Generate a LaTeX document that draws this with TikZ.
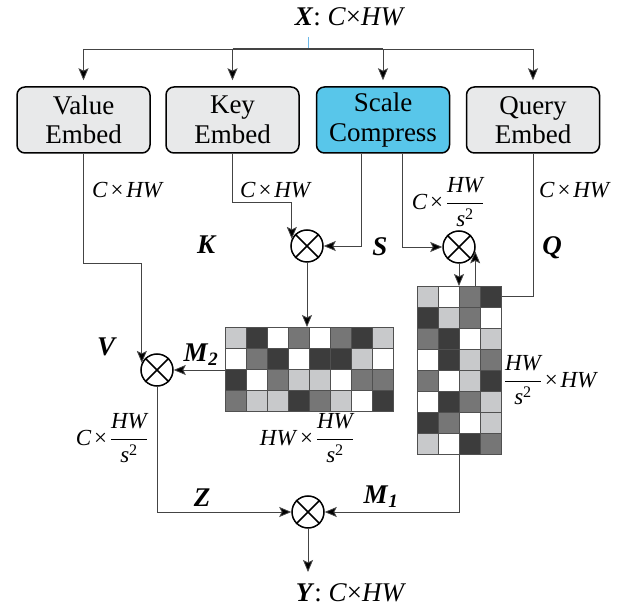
\documentclass[tikz,border=0pt]{standalone}
\usepackage{fontspec}
\setmainfont{Liberation Serif}
\usepackage{amsmath}
\usetikzlibrary{arrows.meta,calc}
\definecolor{boxgray}{HTML}{E8E9EA}
\definecolor{scaleblue}{HTML}{58C6EA}
\definecolor{cL}{HTML}{C8C9CB}
\definecolor{cD}{HTML}{3C3C3C}
\definecolor{cM}{HTML}{767676}
\definecolor{cW}{HTML}{FFFFFF}
\definecolor{linegray}{HTML}{444444}
\definecolor{gridc}{HTML}{505050}
\definecolor{tickblue}{HTML}{6BB8E8}
\newcommand{\iv}[1]{\textit{#1}}
\newcommand{\bv}[1]{\textbf{\textit{#1}}}
\newcommand{\tms}{\hspace{0.12em}×\hspace{0.12em}}
\newcommand{\frHW}{$\dfrac{\text{\itshape HW}}{\text{\itshape s}^{\text{2}}}$}
\begin{document}
\begin{tikzpicture}[x=1pt,y=-1pt,
  box/.style={draw, line width=1.5pt, rounded corners=8pt, fill=boxgray,
    minimum width=133pt, minimum height=66pt, align=center, inner sep=0pt,
    font=\fontsize{27}{29.5}\selectfont},
  mul/.style={circle, draw, line width=1.5pt, minimum size=32pt, inner sep=0pt},
  conn/.style={draw=linegray, line width=0.8pt},
  arr/.style={conn, -{Stealth[length=12pt,width=10pt,inset=2.5pt,fill=black]}},
  lbl/.style={font=\fontsize{23}{27}\selectfont, inner sep=0pt},
  blbl/.style={font=\fontsize{27}{31}\selectfont, inner sep=0pt},
  big/.style={font=\fontsize{27}{31}\selectfont, inner sep=0pt},
  mat/.style={draw=gridc, line width=0.6pt, inner sep=0pt, anchor=north west}]
\useasboundingbox (0,0) rectangle (627,609);

% boxes
\node[box] (valbox) at (83.5,120) {Value\\Embed};
\node[box] (keybox) at (232.5,120) {Key\\Embed};
\node[box, fill=scaleblue] (scalebox) at (383,120) {Scale\\Compress};
\node[box] (querybox) at (533,120) {Query\\Embed};

% input
\node[big] (xlab) at (350,17) {\bv{X}: \iv{C}×\iv{HW}};
\coordinate (xt) at (308,37);
\coordinate (hub) at (308,49);
\draw[tickblue, line width=0.8pt] (xt) -- (hub);
\draw[conn] (valbox.north |- hub) -- (querybox.north |- hub);
\draw[conn, line width=1.3pt] (keybox.north |- hub) -- (scalebox.north |- hub);
\foreach \b in {valbox,keybox,scalebox,querybox}
  \draw[arr, shorten >=6pt] (\b.north |- hub) -- (\b.north);

% multiplication nodes
\node[mul] (Kc) at (307,246) {};
\node[mul] (Sc) at (459,247) {};
\node[mul] (Vc) at (157,370) {};
\node[mul] (Bc) at (308,512) {};
\foreach \n in {Kc,Sc,Vc,Bc}
  \draw[line width=1.5pt] (\n.45) -- (\n.225) (\n.135) -- (\n.315);

% matrices
\foreach \row [count=\r from 0] in {{L,D,W,M,W,M,D,L},{W,M,D,W,D,D,L,W},{D,W,M,L,L,W,M,M},{M,L,L,D,M,L,W,D}}
  \foreach \c [count=\k from 0] in \row
    \filldraw[fill=c\c, draw=gridc, line width=0.5pt] (225+21*\k,327+21*\r) rectangle ++(21,21);
\node[mat, minimum width=168pt, minimum height=84pt] (m2) at (225,327) {};
\foreach \row [count=\r from 0] in {{L,W,M,D},{D,L,M,W},{M,D,W,L},{W,D,L,M},{M,W,L,D},{W,D,M,L},{D,M,W,L},{L,W,D,M}}
  \foreach \c [count=\k from 0] in \row
    \filldraw[fill=c\c, draw=gridc, line width=0.5pt] (417+21*\k,286+21*\r) rectangle ++(21,21);
\node[mat, minimum width=84pt, minimum height=168pt] (m1) at (417,286) {};

% connectors
\draw[arr] (valbox.south) -- ++(0,110) -| (Vc.155);
\draw[arr] (keybox.south) -- ++(0,49) -| (Kc.155);
\draw[arr] ([xshift=-22pt]scalebox.south) |- (Kc.east);
\draw[arr] ([xshift=19pt]scalebox.south) |- (Sc.west);
\draw[conn] (querybox.south) |- ($(m1.north east)+(0,10)$);
\draw[arr] (Sc.south) -- (Sc.south |- m1.north);
\draw[arr] (Sc.-15 |- m1.north) -- (Sc.-15);
\draw[arr] (Kc.south) -- (Kc.south |- m2.north);
\draw[arr] (m2.west |- Vc.east) -- (Vc.east);
\draw[arr] (Vc.south) |- (Bc.west);
\draw[arr] (Sc.south |- m1.south) |- (Bc.east);
\coordinate (yend) at (308,572);
\draw[arr] (Bc.south) -- (yend);

% labels
\node[lbl] (lv) at (128,190) {\iv{C}\tms\iv{HW}};
\node[lbl] (lk) at (276,190) {\iv{C}\tms\iv{HW}};
\node[lbl] (lq) at (575,190) {\iv{C}\tms\iv{HW}};
\node[lbl] (ls) at (448,202) {\iv{C}\tms\frHW};
\node[lbl] (lz) at (112,438) {\iv{C}\tms\frHW};
\node[lbl] (lm2) at (307,438) {\iv{HW}\tms\frHW};
\node[lbl] (lm1) at (551,380) {\frHW\tms\iv{HW}};
\node[blbl] (K) at (207,245) {\bv{K}};
\node[blbl] (S) at (380,247) {\bv{S}};
\node[blbl] (Q) at (552,248) {\bv{Q}};
\node[blbl] (V) at (107,347) {\bv{V}};
\node[blbl] (M2) at (201,355) {\bv{M}\textsubscript{\bv{2}}};
\node[blbl] (Z) at (202,498) {\bv{Z}};
\node[blbl] (M1) at (381,497) {\bv{M}\textsubscript{\bv{1}}};
\node[big] (ylab) at (351,593) {\bv{Y}: \iv{C}×\iv{HW}};
\end{tikzpicture}
\end{document}
